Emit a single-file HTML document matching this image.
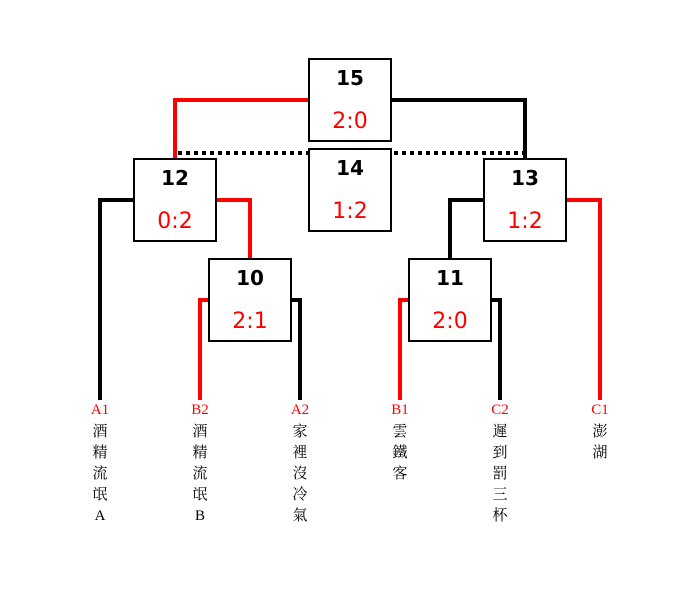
<!DOCTYPE html>
<html><head><meta charset="utf-8"><style>body{margin:0;background:#fff}svg{display:block}</style></head><body>
<svg width="700" height="600" xmlns="http://www.w3.org/2000/svg">
<g fill="none" stroke-width="4" stroke-linecap="square">
<polyline points="308,100 175,100 175,158" stroke="#f00"/>
<polyline points="391,100 525,100 525,158" stroke="#000"/>
<line x1="178" y1="153" x2="525" y2="153" stroke="#000" stroke-dasharray="4,4" stroke-linecap="butt"/>
<polyline points="133,200 100,200 100,400" stroke="#000" stroke-linecap="butt"/>
<polyline points="216,200 250,200 250,258" stroke="#f00"/>
<polyline points="483,200 450,200 450,258" stroke="#000"/>
<polyline points="566,200 600,200 600,400" stroke="#f00" stroke-linecap="butt"/>
<polyline points="208,300 200,300 200,400" stroke="#f00" stroke-linecap="butt"/>
<polyline points="291,300 300,300 300,400" stroke="#000" stroke-linecap="butt"/>
<polyline points="408,300 400,300 400,400" stroke="#f00" stroke-linecap="butt"/>
<polyline points="491,300 500,300 500,400" stroke="#000" stroke-linecap="butt"/>
</g>
<g fill="#fff" stroke="#000" stroke-width="2">
<rect x="309" y="59" width="82" height="82"/>
<rect x="309" y="149" width="82" height="82"/>
<rect x="134" y="159" width="82" height="82"/>
<rect x="484" y="159" width="82" height="82"/>
<rect x="209" y="259" width="82" height="82"/>
<rect x="409" y="259" width="82" height="82"/>
</g>
<g font-family="'DejaVu Sans','Liberation Sans',sans-serif" text-anchor="middle">
<g font-size="20" font-weight="bold" fill="#000">
<text x="350" y="85">15</text><text x="350" y="175">14</text>
<text x="175" y="185">12</text><text x="525" y="185">13</text>
<text x="250" y="285">10</text><text x="450" y="285">11</text>
</g>
<g font-size="22" fill="#f00">
<text x="350" y="128">2:0</text><text x="350" y="218">1:2</text>
<text x="175" y="228">0:2</text><text x="525" y="228">1:2</text>
<text x="250" y="328">2:1</text><text x="450" y="328">2:0</text>
</g>
</g>
<g font-family="'Liberation Serif','Noto Serif CJK SC','Noto Sans CJK TC',serif" font-size="15" text-anchor="middle">
<g fill="#f00">
<text x="100" y="414">A1</text><text x="200" y="414">B2</text><text x="300" y="414">A2</text>
<text x="400" y="414">B1</text><text x="500" y="414">C2</text><text x="600" y="414">C1</text>
</g>
<g fill="#000">
<text x="100" y="436">酒</text><text x="100" y="457">精</text><text x="100" y="478">流</text><text x="100" y="499">氓</text><text x="100" y="520">A</text>
<text x="200" y="436">酒</text><text x="200" y="457">精</text><text x="200" y="478">流</text><text x="200" y="499">氓</text><text x="200" y="520">B</text>
<text x="300" y="436">家</text><text x="300" y="457">裡</text><text x="300" y="478">沒</text><text x="300" y="499">冷</text><text x="300" y="520">氣</text>
<text x="400" y="436">雲</text><text x="400" y="457">鐵</text><text x="400" y="478">客</text>
<text x="500" y="436">遲</text><text x="500" y="457">到</text><text x="500" y="478">罰</text><text x="500" y="499">三</text><text x="500" y="520">杯</text>
<text x="600" y="436">澎</text><text x="600" y="457">湖</text>
</g>
</g>
</svg>
</body></html>
